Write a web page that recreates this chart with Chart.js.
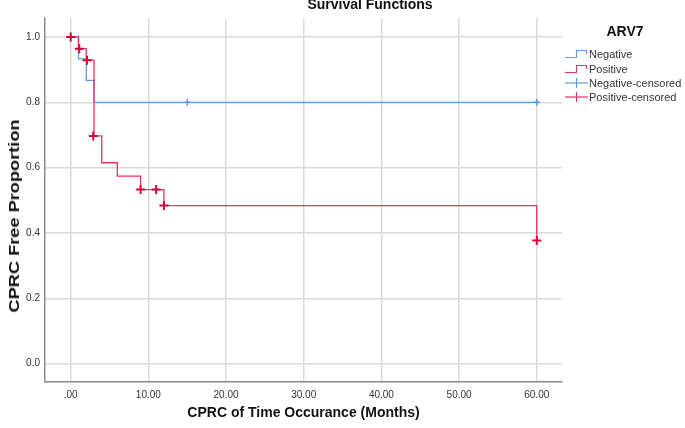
<!DOCTYPE html>
<html>
<head>
<meta charset="utf-8">
<script src="https://cdn.jsdelivr.net/npm/chart.js@4.4.1/dist/chart.umd.min.js"></script>
<style>
  html, body { margin: 0; padding: 0; background: #ffffff; }
  #wrap { position: relative; width: 685px; height: 428px; overflow: hidden; font-family: "Liberation Sans", Arial, sans-serif; }
  #c { position: absolute; left: 0; top: 0; }
  #title { position: absolute; left: 270px; width: 200px; top: -4px; text-align: center; font-weight: bold; font-size: 14px; color: #111; line-height: 16px; }
  #ytitle { position: absolute; left: 14px; top: 216px; transform: translate(-50%, -50%) rotate(-90deg) scaleX(1.3); white-space: nowrap; font-weight: bold; font-size: 14px; color: #111; }
  #legend { position: absolute; left: 565px; top: 0; width: 120px; }
  #legtitle { position: absolute; left: 0; width: 120px; top: 23px; text-align: center; font-weight: bold; font-size: 14px; color: #111; line-height: 16px; }
  .li { position: absolute; left: 0; height: 14px; display: flex; align-items: center; font-size: 11px; color: #333; white-space: nowrap; }
  .li svg { width: 23px; height: 14px; margin-right: 1px; flex: none; }
</style>
</head>
<body>
<div id="wrap">
  <canvas id="c" width="685" height="428"></canvas>
  <div id="title">Survival Functions</div>
  <div id="ytitle">CPRC Free Proportion</div>
  <div id="legend"><div id="legtitle">ARV7</div></div>
</div>
<script>
// ---- data ----
const xTickValues = [0, 10, 20, 30, 40, 50, 60];
const yTickValues = [0, 0.2, 0.4, 0.6, 0.8, 1.0];

const negativeTimes    = [0, 1, 2, 3, 60];
const negativeSurvival = [1.0, 0.933, 0.867, 0.8, 0.8];
const negativeCensoredTimes    = [15, 60];
const negativeCensoredSurvival = [0.8, 0.8];

const positiveTimes    = [0, 1, 2, 3, 4, 6, 9, 12, 60];
const positiveSurvival = [1.0, 0.964, 0.929, 0.697, 0.615, 0.574, 0.533, 0.484, 0.377];
const positiveCensoredTimes    = [0, 1.1, 2.1, 2.9, 9, 11, 12, 60];
const positiveCensoredSurvival = [1.0, 0.964, 0.929, 0.697, 0.533, 0.533, 0.484, 0.377];

const legendLabels = ['Negative', 'Positive', 'Negative-censored', 'Positive-censored'];

// ---- styles ----
const BLUE = '#5f9be3';
const RED = '#e2355f';
const RED_MARK = '#d4063c';

function pts(xs, ys) { return xs.map((x, i) => ({ x: x, y: ys[i] })); }

const ctx = document.getElementById('c').getContext('2d');
new Chart(ctx, {
  type: 'scatter',
  data: {
    datasets: [
      { label: legendLabels[1], data: pts(positiveTimes, positiveSurvival), showLine: true, stepped: true,
        borderColor: RED, borderWidth: 1.3, pointRadius: 0, fill: false, order: 2 },
      { label: legendLabels[0], data: pts(negativeTimes, negativeSurvival), showLine: true, stepped: true,
        borderColor: BLUE, borderWidth: 1.3, pointRadius: 0, fill: false, order: 3 },
      { label: legendLabels[3], data: pts(positiveCensoredTimes, positiveCensoredSurvival), showLine: false,
        pointStyle: 'cross', pointRadius: 4.5, borderColor: RED_MARK, borderWidth: 2, order: 0 },
      { label: legendLabels[2], data: pts(negativeCensoredTimes, negativeCensoredSurvival), showLine: false,
        pointStyle: 'cross', pointRadius: 3.5, borderColor: BLUE, borderWidth: 1.5, order: 1 }
    ]
  },
  options: {
    responsive: false,
    animation: false,
    events: [],
    layout: { padding: { left: 0, right: 123, top: 18, bottom: 0 } },
    plugins: { legend: { display: false }, title: { display: false }, tooltip: { enabled: false } },
    scales: {
      x: {
        type: 'linear', min: -3.31, max: 63.25,
        afterBuildTicks: (s) => { s.ticks = xTickValues.map(v => ({ value: v })); },
        afterFit: (s) => { s.height = 46; },
        ticks: { callback: (v) => v === 0 ? '.00' : Number(v).toFixed(2), color: '#333',
                 font: { family: 'Liberation Sans, Arial', size: 10 }, padding: 7, maxRotation: 0 },
        grid: { color: '#d9d9d9', lineWidth: 1.5, drawTicks: false },
        border: { color: '#8a8a8a', width: 1.5 },
        title: { display: true, text: 'CPRC of Time Occurance (Months)', color: '#111',
                 font: { family: 'Liberation Sans, Arial', size: 14, weight: 'bold' }, padding: { top: 0, bottom: 6 } }
      },
      y: {
        type: 'linear', min: -0.056, max: 1.058,
        afterBuildTicks: (s) => { s.ticks = yTickValues.map(v => ({ value: v })); },
        afterFit: (s) => { s.width = 45; },
        ticks: { callback: (v) => Number(v).toFixed(1), color: '#333',
                 font: { family: 'Liberation Sans, Arial', size: 10 }, padding: 5 },
        grid: { color: '#d9d9d9', lineWidth: 1.5, drawTicks: false },
        border: { color: '#8a8a8a', width: 1.5 }
      }
    }
  }
});

// ---- legend ----
const legendDefs = [
  { text: legendLabels[0], color: BLUE, kind: 'step' },
  { text: legendLabels[1], color: RED, kind: 'step' },
  { text: legendLabels[2], color: BLUE, kind: 'cross' },
  { text: legendLabels[3], color: RED, kind: 'cross' }
];
const rowCenters = [54.3, 68.5, 82.7, 96.9];
const legend = document.getElementById('legend');
legendDefs.forEach((d, i) => {
  const row = document.createElement('div');
  row.className = 'li';
  row.style.top = (rowCenters[i] - 7) + 'px';
  let svg;
  if (d.kind === 'step') {
    svg = '<svg viewBox="0 0 23 14"><polyline points="0,10.5 11.5,10.5 11.5,3.5 21.5,3.5 21.5,7" fill="none" stroke="' + d.color + '" stroke-width="1.2"/></svg>';
  } else {
    svg = '<svg viewBox="0 0 23 14"><line x1="0" y1="7" x2="23" y2="7" stroke="' + d.color + '" stroke-width="1.2"/><line x1="11.5" y1="2" x2="11.5" y2="12" stroke="' + d.color + '" stroke-width="1.2"/></svg>';
  }
  row.innerHTML = svg + '<span>' + d.text + '</span>';
  legend.appendChild(row);
});
</script>
</body>
</html>
